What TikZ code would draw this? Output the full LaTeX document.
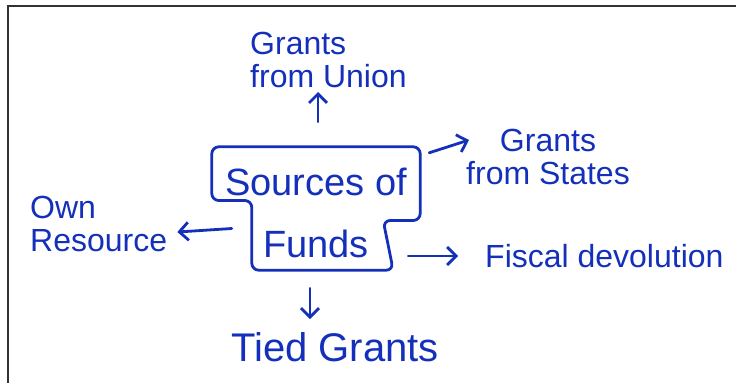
\documentclass[tikz,border=0pt]{standalone}
\usepackage{fontspec}
\setmainfont{Liberation Sans}
\usepackage{xcolor}
\usepackage{tikz}
\usetikzlibrary{positioning, arrows.meta, calc}
\definecolor{inkBlue}{RGB}{20,48,186}

\begin{document}
\begin{tikzpicture}[
    x=1pt, y=-1pt,
    ink/.style={draw=inkBlue, line width=2.8pt, line cap=round, line join=round},
    arrow/.style={ink, -{Straight Barb[length=9pt,width=18pt]}},
    label/.style={text=inkBlue, font=\fontsize{32}{33}\selectfont, inner sep=0pt},
    title/.style={text=inkBlue, font=\fontsize{38}{62}\selectfont, align=center, inner sep=0pt, minimum width=208pt, minimum height=123pt}
]
\useasboundingbox (0,0) rectangle (736,383);
% Frame
\draw[black!80, line width=1.5pt] (736,6) -- (8,6) -- (8,383);

% Nodes
\node[title] (funds) at (316,208.5) {\rule{0pt}{36pt}Sources of\\Funds};
\node[label, align=left, anchor=south west] (union) at (250,88) {Grants\\from Union};
\node[label, align=center] (states) at (548,157) {Grants\\from States};
\node[label, align=left, anchor=north west] (own) at (30,196) {Own\\Resource};
\node[label, anchor=west] (fiscal) at (485,256) {Fiscal devolution};
\node[label, font=\fontsize{40}{44}\selectfont] (tied) at (335,347) {Tied Grants};

% Outline
\draw[ink, rounded corners=7pt] (funds.north west) -- (funds.north east)
    -- ($(funds.east)+(0,12)$) -- ($(funds.east)+(-37,12)$)
    -- ($(funds.south east)+(-27,0)$) -- ($(funds.south west)+(40,0)$)
    -- ($(funds.west)+(40,-8)$) -- ($(funds.west)+(0,-8)$) -- cycle;

% Arrows
\draw[arrow] ($(funds.north)+(2,-25)$) -- ($(funds.north |- union.south)+(2,4)$);
\draw[arrow] ($(funds.north east)+(9,6)$) -- ($(states.west)+(3,-17)$);
\draw[arrow] ($(funds.west)+(20,20)$) -- ($(own.east)+(10,8)$);
\draw[arrow] ($(funds.east |- fiscal.west)+(-12,0)$) -- ($(fiscal.west)+(-27,0)$);
\draw[arrow] ($(funds.south)+(-6,18)$) -- ($(funds.south |- tied.north)+(-6,-13)$);
\end{tikzpicture}
\end{document}
